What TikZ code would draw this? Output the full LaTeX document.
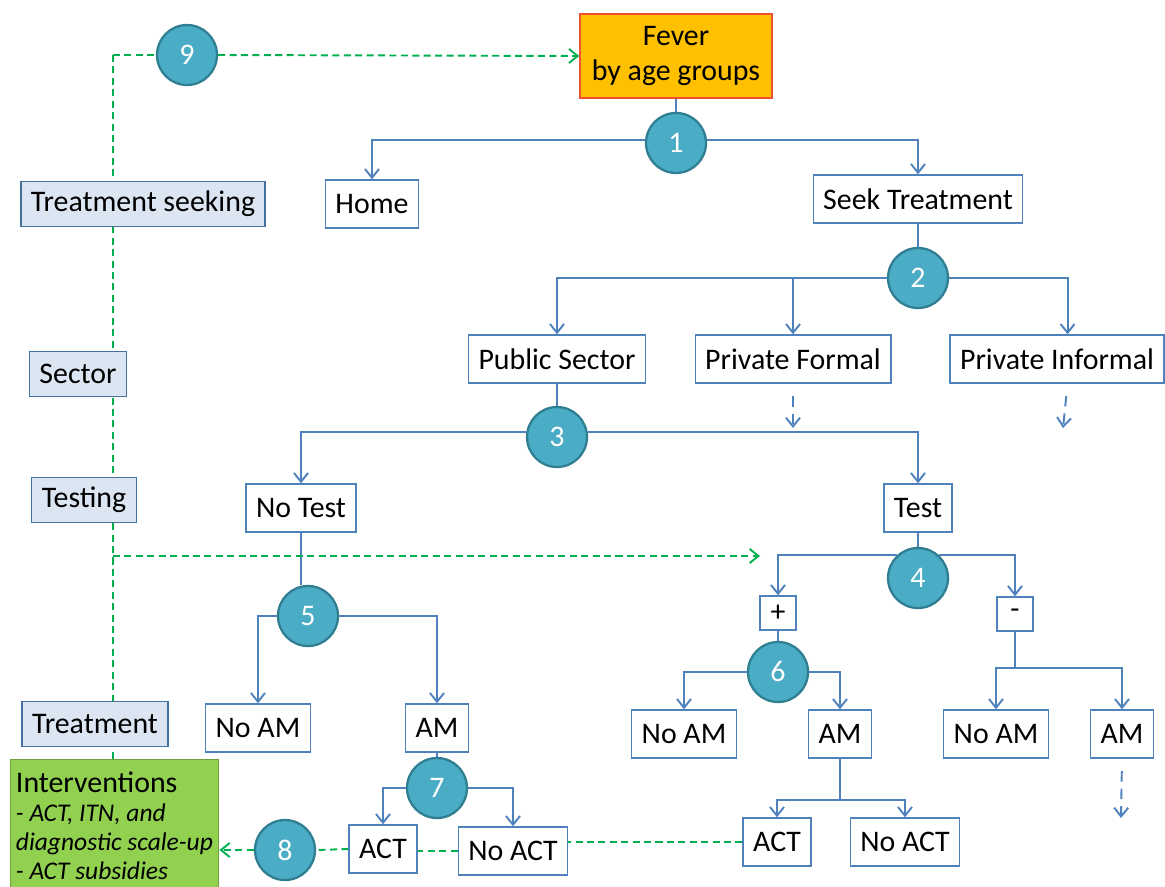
\documentclass[tikz,border=0pt]{standalone}
\usepackage{fontspec}
\setmainfont{Carlito}
\usetikzlibrary{arrows.meta, positioning}
\definecolor{lineblue}{RGB}{79,129,189}
\definecolor{levelfill}{RGB}{220,230,242}
\definecolor{levelline}{RGB}{65,113,156}
\definecolor{numfill}{RGB}{75,172,198}
\definecolor{numline}{RGB}{47,126,146}
\definecolor{feverfill}{RGB}{255,192,0}
\definecolor{feverline}{RGB}{240,80,50}
\definecolor{fbgreen}{RGB}{0,176,80}
\definecolor{intfill}{RGB}{146,208,80}
\definecolor{intline}{RGB}{110,160,60}
\newcommand{\mainsize}{\fontsize{17}{20}\selectfont}
\tikzset{
    >={Straight Barb[length=5pt,width=8pt]}, % open arrow heads
    link/.style={draw=lineblue, line width=1.1pt}, % plain branch line
    flow/.style={link, ->}, % branch line ending in an arrow
    hint/.style={flow, dash pattern=on 6pt off 4pt, shorten <=7pt}, % dashed stub below a box
    box/.style={draw=lineblue, line width=0.8pt, fill=white, minimum height=0.96cm, inner xsep=0.2cm, font=\mainsize},
    small/.style={minimum height=0.68cm, minimum width=0.72cm, inner xsep=0pt},
    level/.style={box, fill=levelfill, draw=levelline, minimum height=0.9cm},
    num/.style={circle, fill=numfill, draw=numline, line width=1.3pt, minimum size=1.2cm, inner sep=0pt, text=white, font=\mainsize},
    fever/.style={draw=feverline, line width=0.8pt, fill=feverfill, minimum width=3.84cm, minimum height=1.68cm, align=center, font=\mainsize},
    feedback/.style={draw=fbgreen, dash pattern=on 4pt off 2.5pt, line width=1.1pt},
}

\begin{document}
\begin{tikzpicture}[x=0.02cm, y=-0.02cm]
    \useasboundingbox (0,0) rectangle (1165,886);
    % feedback line on the left
    \coordinate (gtop) at (113,55);
    \coordinate (gmid) at (113,556);
    \coordinate (gbot) at (113,760);
    \coordinate (gtest) at (760,556);
    \draw[feedback] (gtop) -- (gbot);

    % levels
    \node[level] (lseek) at (143,204) {Treatment seeking};
    \node[level] (lsector) at (78,374) {Sector};
    \node[level] (ltest) at (84,500) {Testing};
    \node[level] (ltreat) at (95,724) {Treatment};
    \node[draw=intline, line width=0.8pt, fill=intfill, anchor=north west, inner xsep=3pt, inner ysep=7pt] (interv) at (10,759)
        {\parbox[t][2.6cm][t]{3.95cm}{\fontsize{17}{19}\selectfont Interventions\par
        \fontsize{14.5}{16.4}\selectfont\itshape - ACT, ITN, and\\diagnostic scale-up\\- ACT subsidies\par}};

    % tree
    \node[fever] (fever) at (676,56) {Fever\\by age groups};
    \node[num, below of=fever, node distance=1.74cm] (n1) {1};
    \node[box] (home) at (372,204) {Home};
    \node[box] (seek) at (918,199) {Seek Treatment};
    \node[num] (n2) at (918,278) {2};
    \node[box] (pub) at (557,359) {Public Sector};
    \node[box] (pform) at (793,359) {Private Formal};
    \node[box] (pinf) at (1057,359) {Private Informal};
    \coordinate (pformout) at (793,428);
    \coordinate (pinfout) at (1063,428);
    \node[num] (n3) at (557,437) {3};
    \node[box] (notest) at (301,508) {No Test};
    \node[box] (test) at (918,508) {Test};
    \node[num] (n4) at (918,578) {4};
    \node[box, small] (plus) at (778,613) {+};
    \node[box, small] (minus) at (1015,614) {-};
    \coordinate (mj) at (1015,668);
    \node[num] (n6) at (778,672) {6};
    \node[box] (noam2) at (684,734) {No AM};
    \node[box] (am2) at (840,734) {AM};
    \node[box] (noam3) at (996,734) {No AM};
    \node[box] (am3) at (1122,734) {AM};
    \coordinate (am3out) at (1121,818);
    \coordinate (aj) at (840,800);
    \node[box] (act2) at (777,842) {ACT};
    \node[box] (noact2) at (905,842) {No ACT};
    \node[num] (n5) at (308,616) {5};
    \node[box] (noam1) at (258,728) {No AM};
    \node[box] (am1) at (437,728) {AM};
    \node[num] (n7) at (437,788) {7};
    \node[box] (act1) at (383,849) {ACT};
    \node[box] (noact1) at (513,851) {No ACT};
    \node[num] (n8) at (285,850) {8};
    \node[num] (n9) at (187,55) {9};

    % branches
    \draw[link] (fever.south) -- (n1.north);
    \draw[flow] (n1.174) -| (home.north);
    \draw[flow] (n1.6) -| (seek.north);
    \draw[link] (seek.south) -- (n2.north);
    \draw[flow] (n2.west) -| (pub.north);
    \draw[flow] (n2.west) -| (pform.north);
    \draw[flow] (n2.east) -| ([xshift=6]pinf.north);
    \draw[hint] (pform.south) -- (pformout);
    \draw[hint] ([xshift=6]pinf.south) -- (pinfout);
    \draw[link] (pub.south) -- (n3.north);
    \draw[flow] (n3.170) -| (notest.north);
    \draw[flow] (n3.10) -| (test.north);
    \draw[link] (test.south) -- (n4.north);
    \draw[flow] (n4.133) -| (plus.north);
    \draw[flow] (n4.47) -| (minus.north);
    \draw[link] (plus.south) -- (n6.north);
    \draw[flow] (n6.west) -| (noam2.north);
    \draw[flow] (n6.east) -| (am2.north);
    \draw[link] (minus.south) -- (mj);
    \draw[flow] (mj) -| (noam3.north);
    \draw[flow] (mj) -| (am3.north);
    \draw[hint] (am3.south) -- (am3out);
    \draw[link] (am2.south) -- (aj);
    \draw[flow] (aj) -| (act2.north);
    \draw[flow] (aj) -| (noact2.north);
    \draw[link] (notest.south) -- (notest.south |- n5.north);
    \draw[flow] (n5.west) -| (noam1.north);
    \draw[flow] (n5.east) -| (am1.north);
    \draw[link] (am1.south) -- (n7.north);
    \draw[flow] (n7.west) -| (act1.north);
    \draw[flow] (n7.east) -| (noact1.north);

    % feedback
    \draw[feedback] (gtop) -- (n9.west);
    \draw[feedback, ->] (n9.east) -- (fever.west);
    \draw[feedback, ->] (gmid) -- (gtest);
    \draw[feedback] (act2.west) -- (act2.west -| noact1.east);
    \draw[feedback] (noact1.west) -- (noact1.west -| act1.east);
    \draw[feedback] (act1.west) -- (n8.east);
    \draw[feedback, ->] (n8.west) -- (interv.east |- n8.west);
\end{tikzpicture}
\end{document}
